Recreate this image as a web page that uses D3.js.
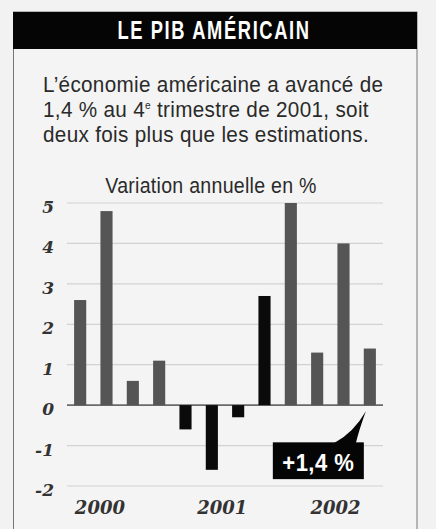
<!DOCTYPE html>
<html>
<head>
<meta charset="utf-8">
<script src="https://cdn.jsdelivr.net/npm/d3@7"></script>
<style>
  html, body { margin: 0; padding: 0; background: #f2f2f2; }
  svg { display: block; }
</style>
</head>
<body>
<div id="chart"></div>
<script>
// data
const quarters = ['T1 2000', 'T2 2000', 'T3 2000', 'T4 2000',
                  'T1 2001', 'T2 2001', 'T3 2001', 'T4 2001',
                  'T1 2002', 'T2 2002', 'T3 2002', 'T4 2002'];
const growth = [2.6, 4.8, 0.6, 1.1, -0.6, -1.6, -0.3, 2.7, 5.0, 1.3, 4.0, 1.4];
const barYear = ['2000', '2000', '2000', '2000', '2001', '2001', '2001', '2001', '2002', '2002', '2002', '2002'];
const yTicks = [-2, -1, 0, 1, 2, 3, 4, 5];
const yearLabels = ['2000', '2001', '2002'];
const yearLabelPos = [0.75, 5.4, 9.7];   // position in bar index units
const title = 'LE PIB AMÉRICAIN';
const intro = ['L\u2019économie américaine a avancé de',
               '1,4 % au 4e trimestre de 2001, soit',
               'deux fois plus que les estimations.'];
const subtitle = 'Variation annuelle en %';
const calloutText = '+1,4 %';

const width = 436, height = 529;

const svg = d3.select('#chart')
  .append('svg')
  .attr('width', width)
  .attr('height', height);

svg.append('rect')
  .attr('width', width).attr('height', height)
  .attr('fill', '#f2f2f2');

// frame
svg.append('rect')
  .attr('x', 13.5).attr('y', 12)
  .attr('width', 403.5).attr('height', height + 10)
  .attr('fill', '#f4f4f4')
  .attr('stroke', '#777')
  .attr('stroke-width', 1);

svg.append('rect')
  .attr('x', 13).attr('y', 12)
  .attr('width', 404).attr('height', 37)
  .attr('fill', '#050505');

// condensed look: squeeze the text horizontally
svg.append('text')
  .attr('transform', 'translate(214,39) scale(0.734,1)')
  .attr('text-anchor', 'middle')
  .style('font-family', '"Liberation Sans", sans-serif')
  .style('font-weight', 'bold')
  .style('font-size', '25px')
  .style('letter-spacing', '2.2px')
  .attr('fill', '#fff')
  .text(title);

// intro text
const introText = svg.append('g')
  .attr('transform', 'translate(43,0) scale(0.919,1)')
  .style('font-family', '"Liberation Sans", sans-serif')
  .style('font-size', '22.5px')
  .attr('fill', '#2a2a2a');

introText.selectAll('text')
  .data(intro)
  .enter()
  .append('text')
  .attr('x', 0)
  .attr('y', (d, i) => 92 + i * 25)
  .style('letter-spacing', '0.35px')
  .each(function(d) {
    const t = d3.select(this);
    if (d.indexOf('4e') >= 0) {
      const parts = d.split('4e');
      t.append('tspan').text(parts[0] + '4');
      t.append('tspan').attr('dy', -8).style('font-size', '11px').text('e');
      t.append('tspan').attr('dy', 8).text(parts[1]);
    } else {
      t.text(d);
    }
  });

svg.append('text')
  .attr('transform', 'translate(211,193) scale(0.91,1)')
  .attr('text-anchor', 'middle')
  .style('font-family', '"Liberation Sans", sans-serif')
  .style('font-size', '21.5px')
  .style('letter-spacing', '0.3px')
  .attr('fill', '#2a2a2a')
  .text(subtitle);

// scales
const x = d3.scaleBand()
  .domain(quarters)
  .range([67, 383])
  .paddingInner(0.54)
  .paddingOuter(0.27);

const y = d3.scaleLinear()
  .domain([-2, 5])
  .range([486, 203]);

const xCenter = i => x(quarters[0]) + x.bandwidth() / 2 + i * x.step();

// grid
svg.append('g')
  .selectAll('line')
  .data(yTicks)
  .enter()
  .append('line')
  .attr('x1', 67).attr('x2', 383)
  .attr('y1', d => y(d)).attr('y2', d => y(d))
  .attr('stroke', d => d === 0 ? '#6a6a6a' : '#d2d2d2')
  .attr('stroke-width', d => d === 0 ? 1.8 : 1.2);

// y axis labels
svg.append('g')
  .selectAll('text')
  .data(yTicks)
  .enter()
  .append('text')
  .attr('x', 54)
  .attr('y', d => y(d) + 10)
  .attr('text-anchor', 'end')
  .style('font-family', '"DejaVu Serif", serif')
  .style('font-weight', 'bold')
  .style('font-style', 'italic')
  .style('font-size', '17px')
  .attr('fill', '#333')
  .text(d => d);

// bars
svg.append('g')
  .selectAll('rect')
  .data(growth)
  .enter()
  .append('rect')
  .attr('x', (d, i) => x(quarters[i]))
  .attr('y', d => y(Math.max(0, d)))
  .attr('width', x.bandwidth())
  .attr('height', d => Math.abs(y(d) - y(0)))
  .attr('fill', (d, i) => barYear[i] === '2001' ? '#0a0a0a' : '#555');

// year labels
svg.append('g')
  .selectAll('text')
  .data(yearLabels)
  .enter()
  .append('text')
  .attr('x', (d, i) => xCenter(yearLabelPos[i]))
  .attr('y', 514)
  .attr('text-anchor', 'middle')
  .style('font-family', '"DejaVu Serif", serif')
  .style('font-weight', 'bold')
  .style('font-style', 'italic')
  .style('font-size', '18px')
  .attr('fill', '#333')
  .text(d => d);

// callout for last quarter
const last = growth.length - 1;
const tipX = xCenter(last) - 4;
const tipY = y(0) + 6;
const boxRight = xCenter(last) - 6;
const boxTop = y(-0.92);
const boxBottom = y(-1.83);
const boxLeft = boxRight - 91;

const callout = svg.append('g');

callout.append('path')
  .attr('d', `M ${boxRight - 30} ${boxTop + 1} Q ${tipX - 12} ${boxTop - 10} ${tipX} ${tipY}`
    + ` Q ${tipX - 7} ${boxTop - 12} ${boxRight - 8} ${boxTop + 1} Z`)
  .attr('fill', '#050505');

callout.append('rect')
  .attr('x', boxLeft).attr('y', boxTop)
  .attr('width', boxRight - boxLeft).attr('height', boxBottom - boxTop)
  .attr('fill', '#050505');

callout.append('text')
  .attr('transform', `translate(${(boxLeft + boxRight) / 2},${boxBottom - 8}) scale(0.92,1)`)
  .attr('text-anchor', 'middle')
  .style('font-family', '"Liberation Sans", sans-serif')
  .style('font-weight', 'bold')
  .style('font-size', '24px')
  .style('letter-spacing', '0.5px')
  .attr('fill', '#fff')
  .text(calloutText);
</script>
</body>
</html>
